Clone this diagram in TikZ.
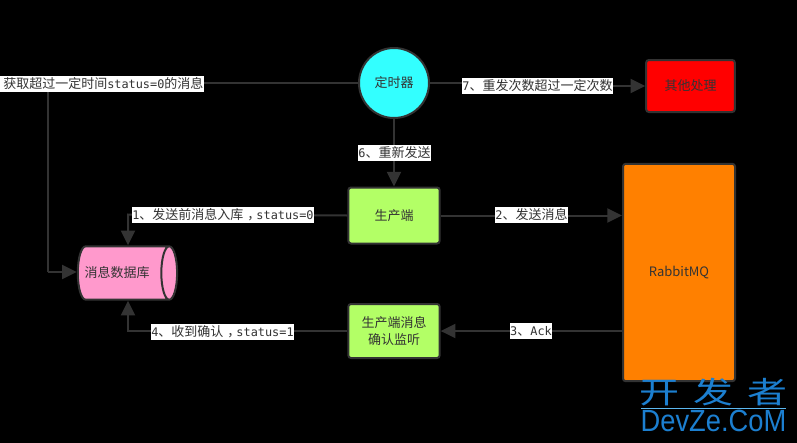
\documentclass[tikz,border=0pt]{standalone}
\usepackage{fontspec}
\setmainfont{Noto Sans CJK SC}
\newfontfamily\monofam{DejaVu Sans Mono}
\newfontfamily\wmfam{Liberation Sans}
\usetikzlibrary{shapes.geometric, arrows.meta}
\definecolor{ink}{HTML}{333333}
\definecolor{wmblue}{HTML}{1C7FD0}
\definecolor{wmline}{HTML}{5CB8F0}
\definecolor{timercol}{HTML}{33FFFF}
\definecolor{prodcol}{HTML}{B3FF66}
\definecolor{dbcol}{HTML}{FF99CC}
\definecolor{mqcol}{HTML}{FF8000}
\newcommand{\mn}[1]{{\monofam\fontsize{8.9pt}{9pt}\selectfont #1}}
\newcommand{\midcomma}{\hspace{.3em}，\hspace{-.3em}}
\tikzset{
    box/.style={draw=ink, line width=1.5pt, rounded corners=2pt, text=ink, align=center, inner sep=0pt},
    conn/.style={draw=ink, line width=1.5pt},
    flow/.style={conn, -{Triangle[length=11pt, width=10.5pt]}},
    lab/.style={fill=white, text=ink, inner xsep=0pt, inner ysep=0pt, minimum height=12pt},
}

\begin{document}
\begin{tikzpicture}[x=.75pt, y=-.75pt, font=\fontsize{9.75pt}{12.5pt}\selectfont]
        \useasboundingbox (0, 0) rectangle (797, 443);
        \fill [black] (0, 0) rectangle (797, 443);
        % boxes
        \node [box, circle, fill=timercol, minimum size=52.5pt] (timer) at (394, 83) {定时器};
        \node [box, fill=red, minimum width=66.5pt, minimum height=39pt] (other) at (690.5, 86) {其他处理};
        \node [box, fill=prodcol, minimum width=68.5pt, minimum height=42pt] (producer) at (394, 215.5) {生产端};
        \node [box, fill=prodcol, minimum width=68.5pt, minimum height=40.5pt] (listener) at (394, 331) {生产端消息\\确认监听};
        \node [box, fill=mqcol, minimum width=84pt, minimum height=163pt] (mq) at (679, 272.5) {\raisebox{-1pt}{RabbitMQ}};
        \node [draw=ink, line width=1.5pt, fill=dbcol, text=ink, shape=cylinder, shape aspect=1.3,
            minimum width=40pt, minimum height=74.5pt, inner sep=0pt] (db) at (123, 273) {\hspace{-9pt}消息数据库};
        % free ends of the elbows
        \coordinate (ca) at (48, 83);
        \coordinate (cb) at (48, 272);
        \coordinate (cc) at (128, 214.5);
        \coordinate (cd) at (128, 331);
        \coordinate (ce) at (537, 86);
        \coordinate (wma) at (641, 408.5);
        \coordinate (wmb) at (786, 408.5);
        % connectors
        \draw [conn] (timer.west) -- (ca) -- (cb);
        \draw [flow] (cb) -- (db.west |- cb);
        \draw [conn] (timer.east) -- (ce |- timer.east) -- (ce);
        \draw [flow] (ce) -- (other.west);
        \draw [flow] (timer.south) -- (producer.north);
        \draw [flow] (producer.west) -- (cc) -- (db.north -| cc);
        \draw [flow] (producer.east) -- (mq.west |- producer.east);
        \draw [flow] (mq.west |- listener.east) -- (listener.east);
        \draw [flow] (listener.west) -- (cd) -- (db.south -| cd);
        % labels
        \node [lab, minimum width=153pt] (lblscan) at (102, 84) {\hspace{2pt}获取超过一定时间\mn{status=0}的消息};
        \node [lab] (lblfirst) at (223, 215) {\mn{1}、发送前消息入库\midcomma\mn{status=0}};
        \node [lab] (lblsend) at (531.5, 215) {\mn{2}、发送消息};
        \node [lab] (lblack) at (531, 331) {\mn{3}、\mn{Ack}};
        \node [lab] (lblconfirm) at (222.5, 331.5) {\mn{4}、收到确认\midcomma\mn{status=1}};
        \node [lab] (lblresend) at (394.5, 152.5) {\mn{6}、重新发送};
        \node [lab] (lblretry) at (537.5, 85.5) {\mn{7}、重发次数超过一定次数};
        % watermark
        \node [text=wmblue, font=\fontsize{30pt}{30pt}\selectfont, yscale=.75] (wmcn) at (713.5, 392) {开\hspace{.36em}发\hspace{.36em}者};
        \node [text=wmblue, font=\wmfam\fontsize{23pt}{23pt}\selectfont, xscale=.89] (wmen) at (713.5, 421) {DevZe.CoM};
        \draw [wmline, line width=.4pt] (wma) -- (wmb);
    \end{tikzpicture}
\end{document}
